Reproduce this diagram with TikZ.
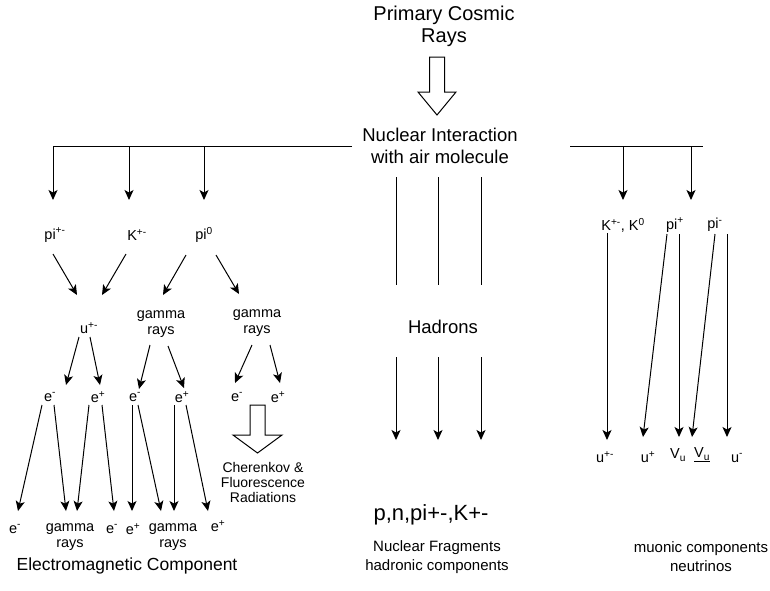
\documentclass[tikz,border=0pt]{standalone}
\usepackage{fontspec}
\setmainfont{Liberation Sans}
\usetikzlibrary{arrows.meta}
\tikzset{
  lbl/.style={font=\fontsize{14.5}{16}\selectfont, inner sep=0.5pt, align=center},
  gam/.style={font=\fontsize{14.5}{16.5}\selectfont, inner sep=0.5pt, align=center},
  cher/.style={font=\fontsize{14}{15}\selectfont, inner sep=0.5pt, align=center},
  headtxt/.style={font=\fontsize{20}{22}\selectfont, inner sep=0.5pt, align=center},
  midtxt/.style={font=\fontsize{18.5}{22}\selectfont, inner sep=0.5pt, align=center},
  captxt/.style={font=\fontsize{15}{19}\selectfont, inner sep=0.5pt, align=center},
  emc/.style={font=\fontsize{17.5}{20}\selectfont, inner sep=0.5pt, align=center},
  frag/.style={font=\fontsize{22}{24}\selectfont, inner sep=0.5pt, align=center},
  ln/.style={line width=1pt},
  arr/.style={line width=1pt, -{Stealth[length=10pt,width=9pt,inset=2.5pt]}},
  hollow/.style={draw, line width=1pt, fill=white, line join=miter},
}
\begin{document}
\begin{tikzpicture}[x=1pt,y=-1pt]
\useasboundingbox[fill=white] (0,0) rectangle (770,590);

% ---- top
\node[headtxt] (pcr) at (444,26) {Primary Cosmic\\Rays};
\node[midtxt] (nia) at (440,146) {Nuclear Interaction\\with air molecule};
\coordinate (ha) at (437,57);
\draw[hollow] (ha) ++(-7.5,0) -- ++(0,35) -- ++(-11.5,0) -- (437,115) -- (456,92) -- ++(-11.5,0) -- (444.5,57) -- cycle;

% ---- main branches
\coordinate (hl0) at (352,146);
\coordinate (hl1) at (53,146);
\coordinate (hl2) at (129,146);
\coordinate (hl3) at (204,146);
\coordinate (hr0) at (570,146);
\coordinate (hr1) at (703,146);
\coordinate (hr2) at (623,146);
\coordinate (hr3) at (691,146);
\draw[ln] (hl0) -- (hl1);
\draw[ln] (hr0) -- (hr1);
\draw[arr] (hl1) -- (53,200) coordinate (hl1e);
\draw[arr] (hl2) -- (129,200) coordinate (hl2e);
\draw[arr] (hl3) -- (204,200) coordinate (hl3e);
\draw[arr] (hr2) -- (623,200) coordinate (hr2e);
\draw[arr] (hr3) -- (691,200) coordinate (hr3e);

% ---- electromagnetic branch
\node[lbl] (pipm) at (55,235) {pi\textsuperscript{+-}};
\node[lbl] (kpm) at (137,235) {K\textsuperscript{+-}};
\node[lbl] (pi0) at (204,235) {pi\textsuperscript{0}};
\node[lbl] (upm) at (89,328) {u\textsuperscript{+-}};
\node[gam] (g1) at (161,324) {gamma\\rays};
\node[gam] (g2) at (257,323) {gamma\\rays};
\draw[arr] (53,254) coordinate (a1s) -- (77,295) coordinate (a1e);
\draw[arr] (126,254) coordinate (a2s) -- (102,295) coordinate (a2e);
\draw[arr] (186,255) coordinate (a3s) -- (163,295) coordinate (a3e);
\draw[arr] (216,255) coordinate (a4s) -- (239,294) coordinate (a4e);

\node[lbl] (e1) at (50,397) {e\textsuperscript{-}};
\node[lbl] (e2) at (98,397) {e\textsuperscript{+}};
\node[lbl] (e3) at (135,397) {e\textsuperscript{-}};
\node[lbl] (e4) at (182,397) {e\textsuperscript{+}};
\node[lbl] (e5) at (237,397) {e\textsuperscript{-}};
\node[lbl] (e6) at (278,397) {e\textsuperscript{+}};
\draw[arr] (79,337) coordinate (b1s) -- (66,385) coordinate (b1e);
\draw[arr] (90,337) coordinate (b2s) -- (100,385) coordinate (b2e);
\draw[arr] (150,345) coordinate (b3s) -- (139,389) coordinate (b3e);
\draw[arr] (168,346) coordinate (b4s) -- (184,388) coordinate (b4e);
\draw[arr] (252,345) coordinate (b5s) -- (235,383) coordinate (b5e);
\draw[arr] (270,345) coordinate (b6s) -- (280,383) coordinate (b6e);

% Cherenkov hollow arrow
\coordinate (ca) at (257.5,405);
\draw[hollow] (ca) ++(-7.5,0) -- ++(0,30) -- ++(-17,0) -- (257.5,453) -- (282,435) -- ++(-17,0) -- (265,405) -- cycle;
\node[cher] (cher) at (263,482) {Cherenkov \&\\Fluorescence\\Radiations};

% bottom electron arrows
\draw[arr] (42,405) coordinate (c1s) -- (18,511) coordinate (c1e);
\draw[arr] (54,405) coordinate (c2s) -- (66,511) coordinate (c2e);
\draw[arr] (89,405) coordinate (c3s) -- (77,511) coordinate (c3e);
\draw[arr] (102,405) coordinate (c4s) -- (114,511) coordinate (c4e);
\draw[arr] (132,405) coordinate (c5s) -- (132,511) coordinate (c5e);
\draw[arr] (138,405) coordinate (c6s) -- (161,511) coordinate (c6e);
\draw[arr] (174,405) coordinate (c7s) -- (174,511) coordinate (c7e);
\draw[arr] (186,405) coordinate (c8s) -- (208,511) coordinate (c8e);

\node[lbl] (f1) at (15,529) {e\textsuperscript{-}};
\node[gam] (f2) at (70,537) {gamma\\rays};
\node[lbl] (f3) at (112,529) {e\textsuperscript{-}};
\node[lbl] (f4) at (133,529) {e\textsuperscript{+}};
\node[gam] (f5) at (173,537) {gamma\\rays};
\node[lbl] (f6) at (218,526) {e\textsuperscript{+}};
\node[emc] (emc) at (127,566) {Electromagnetic Component};

% ---- hadronic branch
\node[midtxt] (had) at (443,327) {Hadrons};
\draw[ln] (396,177) coordinate (h1s) -- (396,285) coordinate (h1e);
\draw[ln] (438,177) coordinate (h2s) -- (438,285) coordinate (h2e);
\draw[ln] (481,177) coordinate (h3s) -- (481,285) coordinate (h3e);
\draw[arr] (396,357) coordinate (h4s) -- (396,440) coordinate (h4e);
\draw[arr] (438,357) coordinate (h5s) -- (438,440) coordinate (h5e);
\draw[arr] (481,357) coordinate (h6s) -- (481,440) coordinate (h6e);
\node[frag] (pn) at (431,515) {p,n,pi+-,K+-};
\node[captxt] (nf) at (437,557) {Nuclear Fragments\\hadronic components};

% ---- muonic branch
\node[lbl] (kk) at (623,225) {K\textsuperscript{+-}, K\textsuperscript{0}};
\node[lbl] (pip) at (675,225) {pi\textsuperscript{+}};
\node[lbl] (pim) at (715,225) {pi\textsuperscript{-}};
\draw[arr] (607,233) coordinate (m1s) -- (607,440) coordinate (m1e);
\draw[arr] (667,234) coordinate (m2s) -- (643,437) coordinate (m2e);
\draw[arr] (679,234) coordinate (m3s) -- (679,437) coordinate (m3e);
\draw[arr] (715,234) coordinate (m4s) -- (692,437) coordinate (m4e);
\draw[arr] (727,234) coordinate (m5s) -- (727,437) coordinate (m5e);
\node[lbl] (u1) at (605,457) {u\textsuperscript{+-}};
\node[lbl] (u2) at (648,457) {u\textsuperscript{+}};
\node[lbl] (v1) at (678,455) {V\textsubscript{u}};
\node[lbl] (v2) at (702,455) {\underline{V\textsubscript{u}}};
\node[lbl] (u3) at (737,458) {u\textsuperscript{-}};
\node[captxt] (mc) at (701,557) {muonic components\\neutrinos};
\end{tikzpicture}
\end{document}
